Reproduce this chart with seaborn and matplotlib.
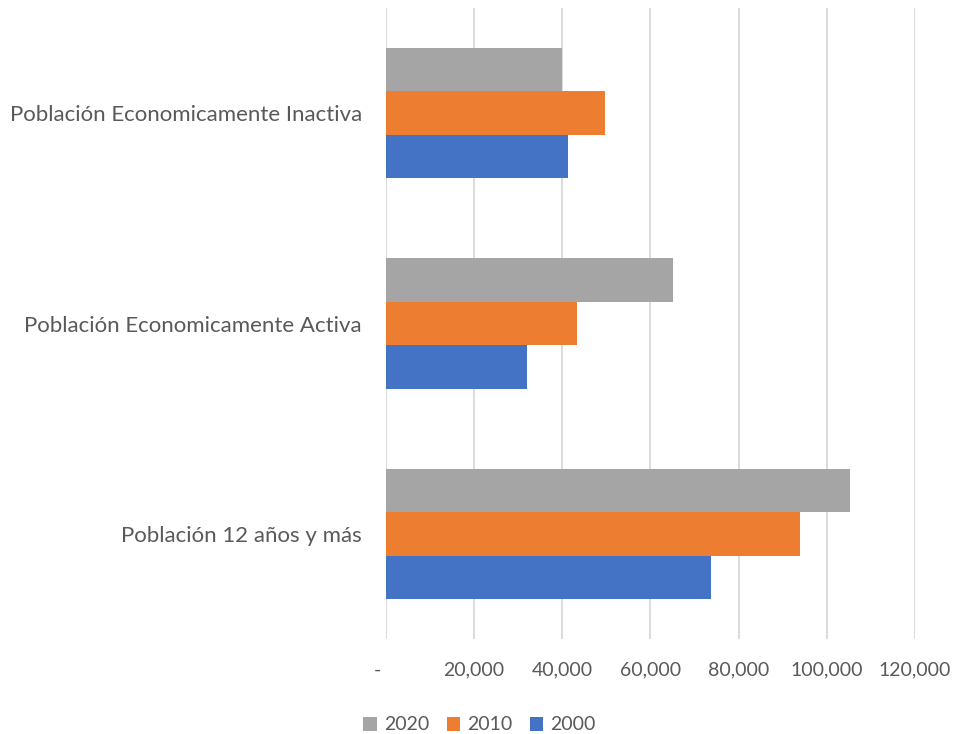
import matplotlib
matplotlib.use("Agg")
import matplotlib.pyplot as plt
import matplotlib.ticker as mticker
import matplotlib.transforms as mtransforms
import seaborn as sns
import pandas as pd

categories = ["Población Economicamente Inactiva",
              "Población Economicamente Activa",
              "Población 12 años y más"]
years = ["2020", "2010", "2000"]
values_2020 = [40000, 65100, 105350]
values_2010 = [49800, 43450, 93850]
values_2000 = [41400, 32050, 73800]
colors = ["#A5A5A5", "#ED7D31", "#4472C4"]
xticks = [0, 20000, 40000, 60000, 80000, 100000, 120000]

rows = []
for yr, vals in zip(years, [values_2020, values_2010, values_2000]):
    for c, v in zip(categories, vals):
        rows.append({"cat": c, "year": yr, "val": v})
df = pd.DataFrame(rows)

sns.set_theme(style="white")
plt.rcParams["font.family"] = ["Lato", "DejaVu Sans"]

fig = plt.figure(figsize=(9.59, 7.34), dpi=100)
ax = fig.add_axes([0.4022, 0.1294, 0.9541 - 0.4022, 0.989 - 0.1294])

sns.barplot(data=df, y="cat", x="val", hue="year", order=categories,
            hue_order=years, palette=colors, orient="h", width=0.62,
            saturation=1, ax=ax, legend=True, edgecolor="none")

ax.set_xlim(0, 120000)
ax.set_xticks(xticks)
ax.xaxis.set_major_formatter(mticker.FuncFormatter(
    lambda v, p: "-" if v == 0 else f"{int(v):,}"))
ax.grid(axis="x", color="#D9D9D9", linewidth=1.3)
ax.set_axisbelow(True)
for s in ax.spines.values():
    s.set_visible(False)
ax.set_xlabel("")
ax.set_ylabel("")
ax.tick_params(axis="x", length=0, pad=16, labelsize=14, labelcolor="#595959")
ax.tick_params(axis="y", length=0, pad=17, labelsize=16, labelcolor="#595959")

# shift the "-" label slightly left
lbl0 = ax.get_xticklabels()[0]
lbl0.set_transform(lbl0.get_transform() + mtransforms.ScaledTranslation(-8/100, 0, fig.dpi_scale_trans))

handles, labels = ax.get_legend_handles_labels()
ax.legend_.remove()
fig.legend(handles, labels, loc="center", bbox_to_anchor=(0.5, 1 - 725/734),
           ncol=3, frameon=False, fontsize=14, handlelength=0.7, handleheight=0.7,
           handletextpad=0.35, columnspacing=0.9, labelcolor="#595959")

fig.savefig("out.png", dpi=100)
